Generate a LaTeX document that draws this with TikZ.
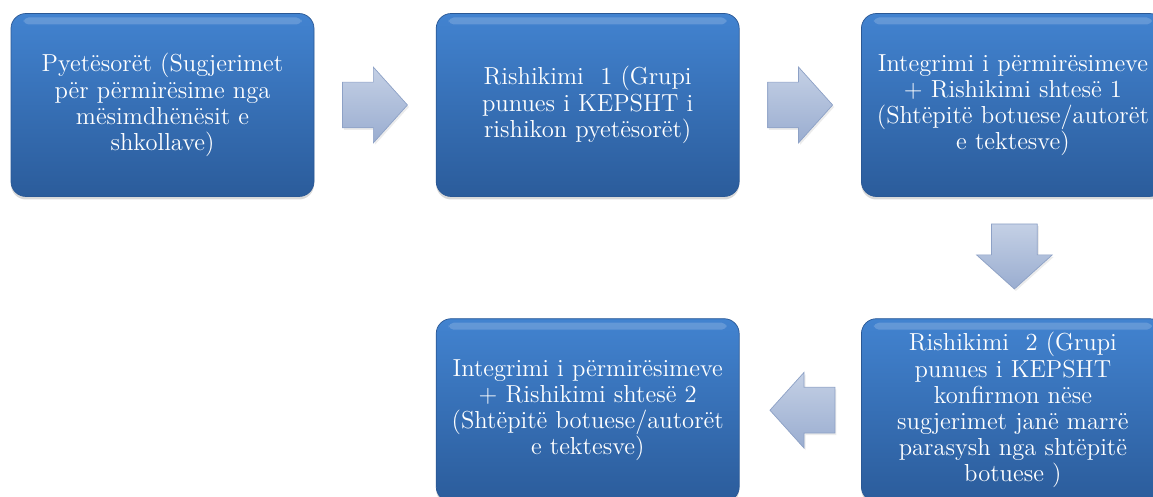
\documentclass[tikz,border=0pt]{standalone}
\usepackage{tikz}
\usetikzlibrary{
    arrows,
    calc,
    positioning,
    shadows,
    shapes,
    shapes.arrows,
}
\definecolor{steptop}{HTML}{4283D0}
\definecolor{stepbot}{HTML}{2B5C9B}
\definecolor{stepedge}{HTML}{2A5895}
\definecolor{flowtop}{HTML}{C4D0E5}
\definecolor{flowbot}{HTML}{9AADD0}
\definecolor{flowedge}{HTML}{8DA1C6}

\begin{document}
\begin{tikzpicture}[
        stage/.style={rectangle, rounded corners=0.3cm, draw=stepedge, thin,
            top color=steptop, bottom color=stepbot,
            minimum width=6.06cm, minimum height=3.66cm, text width=5.9cm,
            align=center, text=white, inner sep=0pt,
            font=\fontsize{14}{14.9}\selectfont,
            drop shadow={shadow xshift=0pt, shadow yshift=-0.06cm, opacity=0.3},
            path picture={\fill[white, opacity=0.18, rounded corners=0.1cm]
                ($(path picture bounding box.north west)+(0.25,-0.08)$) rectangle
                ($(path picture bounding box.north east)+(-0.25,-0.22)$);}},
        flow/.style={single arrow, draw=flowedge, thin, top color=flowtop, bottom color=flowbot,
            minimum height=1.3cm, inner xsep=0pt, inner ysep=0.45cm,
            single arrow head extend=0.3cm, single arrow tip angle=96, anchor=tail,
            drop shadow={shadow xshift=0.03cm, shadow yshift=-0.04cm, opacity=0.15}},
        node distance=2.43cm,
        ]
        \useasboundingbox (0,0) rectangle (23.06,-9.94);
        \node[stage] (Q)  at (3.25,-2.10) {Pyetësorët (Sugjerimet\\ për përmirësime nga\\ mësimdhënësit e\\ shkollave)};
        \node[stage] (R1) [right=of Q]  {Rishikimi\ \ 1 (Grupi\\ punues i KEPSHT i\\ rishikon pyetësorët)};
        \node[stage] (I1) [right=of R1] {Integrimi i përmirësimeve\\ + Rishikimi shtesë 1\\ (Shtëpitë botuese/autorët\\ e tektesve)};
        \node[stage] (R2) [below=of I1] {Rishikimi\ \ 2 (Grupi\\ punues i KEPSHT\\ konfirmon nëse\\ sugjerimet janë marrë\\ parasysh nga shtëpitë\\ botuese )};
        \node[stage] (I2) [left=of R2]  {Integrimi i përmirësimeve\\ + Rishikimi shtesë 2\\ (Shtëpitë botuese/autorët\\ e tektesve)};
        % block arrows between the stages
        \node[flow] (QR1)  at ($(Q.east)!0.5!(R1.west)+(-0.66,0)$) {};
        \node[flow] (R1I1) at ($(R1.east)!0.5!(I1.west)+(-0.66,0)$) {};
        \node[flow, rotate=-90] (I1R2) at ($(I1.south)!0.5!(R2.north)+(0.03,0.68)$) {};
        \node[flow, xscale=-1] (R2I2) at ($(R2.west)!0.5!(I2.east)+(0.7,0)$) {};
\end{tikzpicture}
\end{document}
